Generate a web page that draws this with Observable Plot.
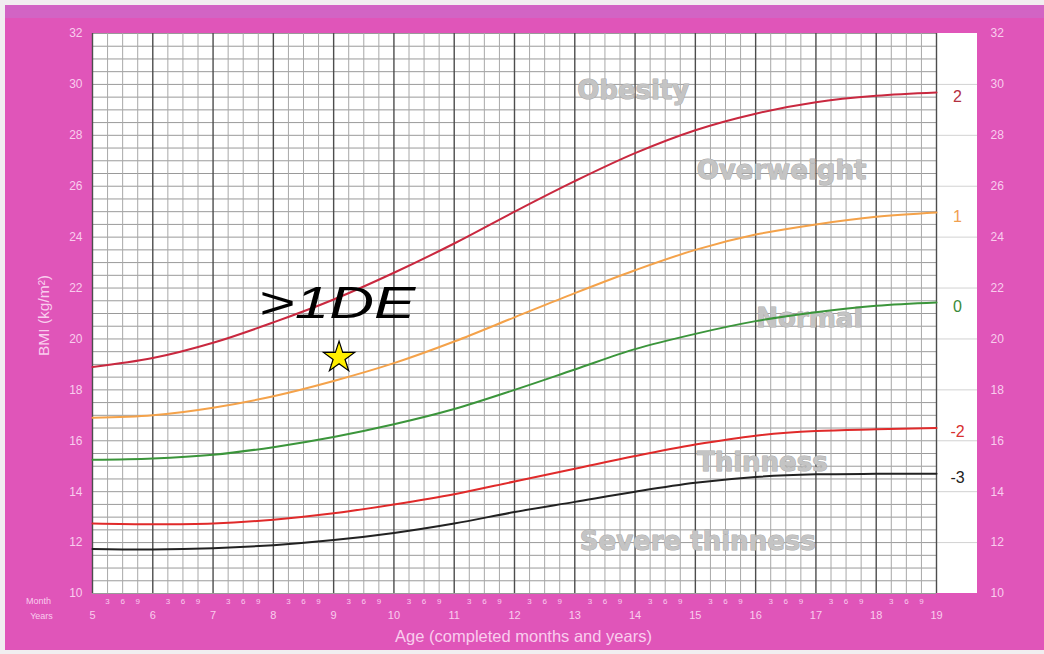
<!DOCTYPE html>
<html><head><meta charset="utf-8">
<script src="https://cdn.jsdelivr.net/npm/d3@7"></script>
<script src="https://cdn.jsdelivr.net/npm/@observablehq/plot@0.6"></script>
<style>
html,body{margin:0;padding:0;background:#f1eef0;}
#wrap{position:relative;width:1044px;height:654px;overflow:hidden;}
#bg{position:absolute;left:5px;top:5px;right:0;bottom:4px;background:#e055b9;}
#band{position:absolute;left:5px;top:5px;right:0;height:13px;background:#d264c4;}
#chart{position:absolute;left:0;top:0;}
</style></head><body>
<div id="wrap"><div id="bg"></div><div id="band"></div><div id="chart"></div></div>
<script>
// ---- data ----
const ages = [5,6,7,8,9,10,11,12,13,14,15,16,17,18,19];
const sd2  = [18.9,19.25,19.85,20.65,21.55,22.6,23.75,25.0,26.2,27.3,28.2,28.85,29.3,29.55,29.68];
const sd1  = [16.9,17.0,17.3,17.75,18.35,19.05,19.9,20.85,21.8,22.7,23.5,24.1,24.5,24.8,24.97];
const sd0  = [15.25,15.3,15.45,15.75,16.15,16.65,17.25,18.0,18.8,19.6,20.2,20.7,21.05,21.3,21.43];
const sdm2 = [12.75,12.72,12.75,12.9,13.15,13.5,13.9,14.4,14.9,15.4,15.85,16.2,16.38,16.45,16.5];
const sdm3 = [11.75,11.73,11.78,11.9,12.1,12.38,12.75,13.2,13.6,14.0,14.35,14.58,14.68,14.7,14.7];
const seriesKeys   = ["2","1","0","-2","-3"];
const seriesColors = ["#c9283f","#f4a24a","#3b953b","#e02a2a","#222222"];
const seriesLabelColors = ["#b3303f","#f0a050","#3a8a3a","#d83030","#222222"];
const bmiTicks = [10,12,14,16,18,20,22,24,26,28,30,32];
const monthTicks = [3,6,9];
const zoneNames = ["Obesity","Overweight","Normal","Thinness","Severe thinness"];
const zoneAge   = [13.97,16.43,16.89,16.11,15.04];
const zoneBmi   = [29.76,26.62,20.8,15.14,12.04];
const markerAge = [9.09];
const markerBmi = [19.27];
const markerText = ">1DE";
const markerTextAge = 9.056;
const markerTextBmi = 20.82;

// ---- derived tables ----
const allSeries = [sd2, sd1, sd0, sdm2, sdm3];
const curves = allSeries.flatMap((vals, i) => vals.map((v, j) => ({age: ages[j], bmi: v, key: seriesKeys[i]})));
const ends = allSeries.map((vals, i) => ({age: ages[ages.length-1], bmi: vals[vals.length-1], key: seriesKeys[i], color: seriesLabelColors[i]}));
const xDomain = [ages[0], ages[ages.length-1]];
const yDomain = [bmiTicks[0], bmiTicks[bmiTicks.length-1]];
const labelCol = 0.68; // white label column width in years
const halfSteps = d3.range(yDomain[0], yDomain[1] + 0.01, 0.5);
const quarters = ages.slice(0,-1).flatMap(a => [0.25,0.5,0.75].map(q => a + q));
const monthLabels = ages.slice(0,-1).flatMap(a => monthTicks.map(m => ({age: a + m/12, m})));
const zones = zoneNames.map((n,i) => ({name:n, age:zoneAge[i], bmi:zoneBmi[i]}));

const font = "Liberation Sans, Arial, Helvetica, sans-serif";
const pinkText = "#f9cdee";

const chart = Plot.plot({
  width: 1044, height: 654,
  marginLeft: 92, marginRight: 108, marginTop: 33, marginBottom: 61,
  style: {background: "transparent", fontFamily: font, overflow: "visible"},
  x: {domain: xDomain, axis: null},
  y: {domain: yDomain, axis: null},
  color: {domain: seriesKeys, range: seriesColors},
  marks: [
    Plot.rect([0], {x1: () => xDomain[0], x2: () => xDomain[1] + labelCol, y1: () => yDomain[0], y2: () => yDomain[1], fill: "white"}),
    Plot.ruleY(bmiTicks.slice(1,-1), {x1: () => xDomain[1], x2: () => xDomain[1] + labelCol, stroke: "#d2d2d2", strokeWidth: 1}),
    Plot.ruleY(halfSteps, {x1: () => xDomain[0], x2: () => xDomain[1], stroke: "#9a9a9a", strokeWidth: 1}),
    Plot.ruleX(quarters, {y1: () => yDomain[0], y2: () => yDomain[1], stroke: "#a8a8a8", strokeWidth: 1}),
    Plot.ruleX(ages, {y1: () => yDomain[0], y2: () => yDomain[1], stroke: "#4d4d4d", strokeWidth: 1.4}),
    Plot.text(zones, {x: "age", y: "bmi", text: "name", fontFamily: "DejaVu Sans", fontWeight: "bold", fontSize: 26,
      fill: "#c4c4c4", stroke: "#ababab", strokeWidth: 1, lineAnchor: "middle"}),
    Plot.line(curves, {x: "age", y: "bmi", z: "key", stroke: "key", strokeWidth: 2, curve: "catmull-rom"}),
    Plot.text(ends, {x: "age", y: "bmi", text: "key", fill: "color", dx: 21, dy: 4, fontSize: 16, textAnchor: "middle", lineAnchor: "middle"}),
    Plot.axisY({anchor: "left", ticks: bmiTicks, tickSize: 0, tickPadding: 10, fontSize: 12, color: pinkText, label: null}),
    Plot.axisY({anchor: "right", ticks: bmiTicks, tickSize: 0, tickPadding: 54, fontSize: 12, color: pinkText, label: null}),
    Plot.axisX({anchor: "bottom", ticks: ages, tickSize: 0, tickPadding: 18, fontSize: 11, color: pinkText, label: null}),
    Plot.text(monthLabels, {x: "age", y: () => yDomain[0], text: "m", dy: 8, fontSize: 8, fill: pinkText, lineAnchor: "middle"}),
    Plot.text(["Month"], {frameAnchor: "bottom-left", dx: -54, dy: 8, fontSize: 9, fill: pinkText, textAnchor: "middle", lineAnchor: "middle"}),
    Plot.text(["Years"], {frameAnchor: "bottom-left", dx: -51, dy: 23, fontSize: 9, fill: pinkText, textAnchor: "middle", lineAnchor: "middle"}),
    Plot.text(["Age (completed months and years)"], {frameAnchor: "bottom", dx: 9, dy: 43, fontSize: 16.5, fill: pinkText, lineAnchor: "middle"}),
    Plot.text(["BMI (kg/m²)"], {frameAnchor: "left", dx: -48, dy: 2, rotate: -90, fontSize: 15.5, fill: pinkText, textAnchor: "middle", lineAnchor: "middle"}),
    Plot.text([markerText], {x: () => markerTextAge, y: () => markerTextBmi, text: d => d, fontSize: 45, fontStyle: "italic", fill: "black", lineAnchor: "bottom", textAnchor: "middle"}),
    Plot.dot(markerAge.map((a,i) => ({age: a, bmi: markerBmi[i]})), {x: "age", y: "bmi", symbol: "star", r: 9.8, fill: "#ffee00", stroke: "black", strokeWidth: 1.2})
  ]
});
d3.select(chart).selectAll("text").filter(function(){ return this.textContent === markerText; })
  .attr("textLength", 157).attr("lengthAdjust", "spacingAndGlyphs");
document.getElementById("chart").appendChild(chart);
</script>
</body></html>
